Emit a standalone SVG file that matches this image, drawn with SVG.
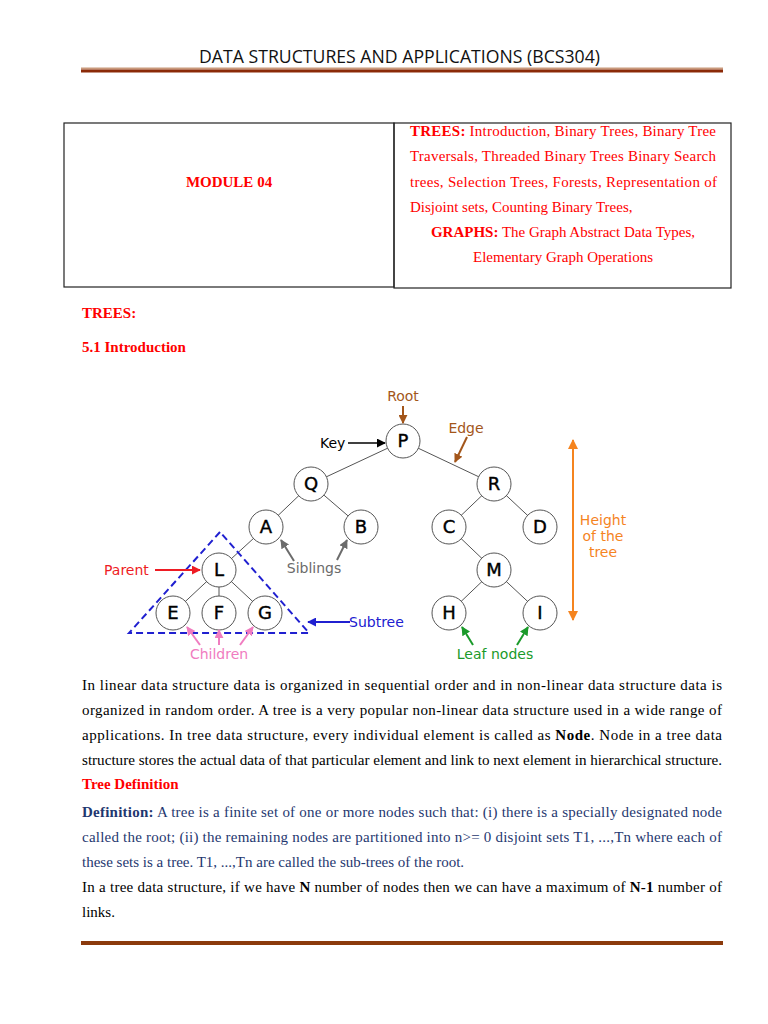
<svg xmlns="http://www.w3.org/2000/svg" width="768" height="1024" viewBox="0 0 768 1024">
<style>
.tm{font-family:"Liberation Serif","Times New Roman",serif;font-size:15px}
.red{fill:#ff0000}
.b{font-weight:bold}
.nav{fill:#1f3870}
.nd circle{fill:#fff;stroke:#555;stroke-width:1}
.nd text{font-family:"DejaVu Sans",Verdana,sans-serif;font-size:18px;fill:#000;stroke:#000;stroke-width:0.4;text-anchor:middle}
.lb{font-family:"DejaVu Sans",Verdana,sans-serif;font-size:14px}
.edge{stroke:#555;stroke-width:1}
</style>
<defs>
<marker id="mk" viewBox="0 0 10 10" refX="9" refY="5" markerWidth="9" markerHeight="9" markerUnits="userSpaceOnUse" orient="auto"><path d="M0,0L10,5L0,10z" fill="#000"/></marker>
<marker id="mbr" viewBox="0 0 10 10" refX="9" refY="5" markerWidth="9" markerHeight="9" markerUnits="userSpaceOnUse" orient="auto"><path d="M0,0L10,5L0,10z" fill="#a3561b"/></marker>
<marker id="mgr" viewBox="0 0 10 10" refX="9" refY="5" markerWidth="9" markerHeight="9" markerUnits="userSpaceOnUse" orient="auto"><path d="M0,0L10,5L0,10z" fill="#6b6b6b"/></marker>
<marker id="mrd" viewBox="0 0 10 10" refX="9" refY="5" markerWidth="9" markerHeight="9" markerUnits="userSpaceOnUse" orient="auto"><path d="M0,0L10,5L0,10z" fill="#ee1c24"/></marker>
<marker id="mbl" viewBox="0 0 10 10" refX="9" refY="5" markerWidth="9" markerHeight="9" markerUnits="userSpaceOnUse" orient="auto"><path d="M0,0L10,5L0,10z" fill="#2020d0"/></marker>
<marker id="mpk" viewBox="0 0 10 10" refX="9" refY="5" markerWidth="9" markerHeight="9" markerUnits="userSpaceOnUse" orient="auto"><path d="M0,0L10,5L0,10z" fill="#f07cc0"/></marker>
<marker id="mgn" viewBox="0 0 10 10" refX="9" refY="5" markerWidth="9" markerHeight="9" markerUnits="userSpaceOnUse" orient="auto"><path d="M0,0L10,5L0,10z" fill="#1a9a2a"/></marker>
<marker id="mor" viewBox="0 0 10 10" refX="9" refY="5" markerWidth="10" markerHeight="10" markerUnits="userSpaceOnUse" orient="auto-start-reverse"><path d="M0,0L10,5L0,10z" fill="#f5841f"/></marker>
</defs>
<rect width="768" height="1024" fill="#fff"/>

<g id="header">
<text x="199" y="63" font-family="'Open Sans','Liberation Sans',sans-serif" font-size="19" fill="#111" textLength="401" lengthAdjust="spacingAndGlyphs">DATA STRUCTURES AND APPLICATIONS (BCS304)</text>
<rect x="81" y="67.5" width="642" height="2" fill="#c99a7c"/>
<rect x="81" y="69.5" width="642" height="3" fill="#8b2a08"/>
</g>

<g id="table">
<rect x="64" y="123" width="330" height="164" fill="none" stroke="#222" stroke-width="1.2"/>
<rect x="394" y="123" width="337" height="165" fill="none" stroke="#222" stroke-width="1.2"/>
<text x="229" y="187" class="tm red b" text-anchor="middle">MODULE 04</text>
<text x="410" y="136" class="tm red" textLength="306" lengthAdjust="spacing"><tspan class="b">TREES:</tspan> Introduction, Binary Trees, Binary Tree</text>
<text x="410" y="161" class="tm red" textLength="306" lengthAdjust="spacing">Traversals, Threaded Binary Trees Binary Search</text>
<text x="410" y="187" class="tm red" textLength="307" lengthAdjust="spacing">trees, Selection Trees, Forests, Representation of</text>
<text x="410" y="212" class="tm red">Disjoint sets, Counting Binary Trees,</text>
<text x="563" y="237" class="tm red" text-anchor="middle"><tspan class="b">GRAPHS:</tspan> The Graph Abstract Data Types,</text>
<text x="563" y="262" class="tm red" text-anchor="middle">Elementary Graph Operations</text>
</g>

<text x="82" y="318" class="tm red b">TREES:</text>
<text x="82" y="352" class="tm red b">5.1 Introduction</text>

<g id="connectors">
<line class="edge" x1="403" y1="441" x2="311" y2="484"/>
<line class="edge" x1="403" y1="441" x2="494" y2="484"/>
<line class="edge" x1="311" y1="484" x2="266" y2="527"/>
<line class="edge" x1="311" y1="484" x2="361" y2="527"/>
<line class="edge" x1="494" y1="484" x2="449" y2="527"/>
<line class="edge" x1="494" y1="484" x2="540" y2="527"/>
<line class="edge" x1="266" y1="527" x2="219" y2="570"/>
<line class="edge" x1="449" y1="527" x2="494" y2="570"/>
<line class="edge" x1="219" y1="570" x2="173" y2="613"/>
<line class="edge" x1="219" y1="570" x2="219" y2="613"/>
<line class="edge" x1="219" y1="570" x2="265" y2="613"/>
<line class="edge" x1="494" y1="570" x2="449" y2="613"/>
<line class="edge" x1="494" y1="570" x2="540" y2="613"/>
</g>

<g id="node-P" class="nd"><circle cx="403" cy="441" r="17"/><text x="403" y="447">P</text></g>
<g id="node-Q" class="nd"><circle cx="311" cy="484" r="17"/><text x="311" y="490">Q</text></g>
<g id="node-R" class="nd"><circle cx="494" cy="484" r="17"/><text x="494" y="490">R</text></g>
<g id="node-A" class="nd"><circle cx="266" cy="527" r="17"/><text x="266" y="533">A</text></g>
<g id="node-B" class="nd"><circle cx="361" cy="527" r="17"/><text x="361" y="533">B</text></g>
<g id="node-C" class="nd"><circle cx="449" cy="527" r="17"/><text x="449" y="533">C</text></g>
<g id="node-D" class="nd"><circle cx="540" cy="527" r="17"/><text x="540" y="533">D</text></g>
<g id="node-L" class="nd"><circle cx="219" cy="570" r="17"/><text x="219" y="576">L</text></g>
<g id="node-M" class="nd"><circle cx="494" cy="570" r="17"/><text x="494" y="576">M</text></g>
<g id="node-E" class="nd"><circle cx="173" cy="613" r="17"/><text x="173" y="619">E</text></g>
<g id="node-F" class="nd"><circle cx="219" cy="613" r="17"/><text x="219" y="619">F</text></g>
<g id="node-G" class="nd"><circle cx="265" cy="613" r="17"/><text x="265" y="619">G</text></g>
<g id="node-H" class="nd"><circle cx="449" cy="613" r="17"/><text x="449" y="619">H</text></g>
<g id="node-I" class="nd"><circle cx="540" cy="613" r="17"/><text x="540" y="619">I</text></g>

<g id="annotations">
<polygon points="220,532 129,633 309,633" fill="none" stroke="#2020d0" stroke-width="2" stroke-dasharray="7,4"/>
<text x="403" y="401" class="lb" fill="#a3561b" text-anchor="middle">Root</text>
<line x1="403" y1="406" x2="403" y2="423" stroke="#a3561b" stroke-width="2" marker-end="url(#mbr)"/>
<text x="466" y="433" class="lb" fill="#a3561b" text-anchor="middle">Edge</text>
<line x1="467" y1="437" x2="455" y2="462" stroke="#a3561b" stroke-width="2" marker-end="url(#mbr)"/>
<text x="320" y="448" class="lb" fill="#000">Key</text>
<line x1="348" y1="443" x2="385" y2="443" stroke="#000" stroke-width="1.6" marker-end="url(#mk)"/>
<line x1="573" y1="440" x2="573" y2="620" stroke="#f5841f" stroke-width="2" marker-start="url(#mor)" marker-end="url(#mor)"/>
<text class="lb" fill="#f5841f" text-anchor="middle"><tspan x="603" y="525">Height</tspan><tspan x="603" y="541">of the</tspan><tspan x="603" y="557">tree</tspan></text>
<text x="314" y="573" class="lb" fill="#6b6b6b" text-anchor="middle">Siblings</text>
<line x1="294" y1="561" x2="281" y2="540" stroke="#6b6b6b" stroke-width="2" marker-end="url(#mgr)"/>
<line x1="337" y1="560" x2="347" y2="540" stroke="#6b6b6b" stroke-width="2" marker-end="url(#mgr)"/>
<text x="104" y="575" class="lb" fill="#ee1c24">Parent</text>
<line x1="155" y1="570" x2="200" y2="570" stroke="#ee1c24" stroke-width="2" marker-end="url(#mrd)"/>
<text x="349" y="627" class="lb" fill="#2020d0">Subtree</text>
<line x1="350" y1="622" x2="308" y2="622" stroke="#2020d0" stroke-width="2" marker-end="url(#mbl)"/>
<text x="219" y="659" class="lb" fill="#f07cc0" text-anchor="middle">Children</text>
<line x1="200" y1="645" x2="187" y2="627" stroke="#f07cc0" stroke-width="2" marker-end="url(#mpk)"/>
<line x1="219" y1="645" x2="219" y2="630" stroke="#f07cc0" stroke-width="2" marker-end="url(#mpk)"/>
<line x1="240" y1="645" x2="253" y2="627" stroke="#f07cc0" stroke-width="2" marker-end="url(#mpk)"/>
<text x="495" y="659" class="lb" fill="#1a9a2a" text-anchor="middle">Leaf nodes</text>
<line x1="473" y1="645" x2="462" y2="627" stroke="#1a9a2a" stroke-width="2" marker-end="url(#mgn)"/>
<line x1="517" y1="645" x2="528" y2="627" stroke="#1a9a2a" stroke-width="2" marker-end="url(#mgn)"/>
</g>

<g id="body">
<text x="82" y="690" class="tm" textLength="640" lengthAdjust="spacing">In linear data structure data is organized in sequential order and in non-linear data structure data is</text>
<text x="82" y="715" class="tm" textLength="640" lengthAdjust="spacing">organized in random order. A tree is a very popular non-linear data structure used in a wide range of</text>
<text x="82" y="740" class="tm" textLength="640" lengthAdjust="spacing">applications. In tree data structure, every individual element is called as <tspan class="b">Node</tspan>. Node in a tree data</text>
<text x="82" y="765" class="tm" textLength="640" lengthAdjust="spacingAndGlyphs">structure stores the actual data of that particular element and link to next element in hierarchical structure.</text>
<text x="82" y="789" class="tm red b">Tree Definition</text>
<text x="82" y="817" class="tm nav" textLength="640" lengthAdjust="spacing"><tspan class="b">Definition:</tspan> A tree is a finite set of one or more nodes such that: (i) there is a specially designated node</text>
<text x="82" y="842" class="tm nav" textLength="640" lengthAdjust="spacing">called the root; (ii) the remaining nodes are partitioned into n&gt;= 0 disjoint sets T1, ...,Tn where each of</text>
<text x="82" y="867" class="tm nav">these sets is a tree. T1, ...,Tn are called the sub-trees of the root.</text>
<text x="82" y="892" class="tm" textLength="640" lengthAdjust="spacing">In a tree data structure, if we have <tspan class="b">N</tspan> number of nodes then we can have a maximum of <tspan class="b">N-1</tspan> number of</text>
<text x="82" y="917" class="tm">links.</text>
</g>

<g id="footer">
<rect x="81" y="941" width="642" height="4" fill="#8b3a0c"/>
</g>
</svg>
